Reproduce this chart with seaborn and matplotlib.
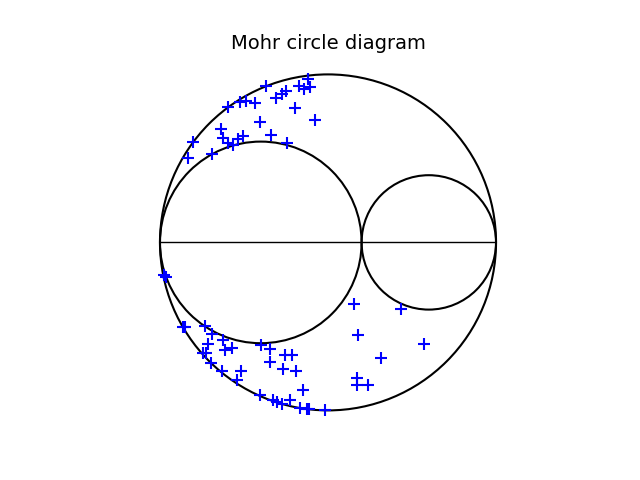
import matplotlib
matplotlib.use("Agg")
import matplotlib.pyplot as plt
from matplotlib.patches import Circle
import seaborn as sns
import pandas as pd

# principal stresses
sigma1 = 60.0
sigma2 = 40.0
sigma3 = 10.0

# sample stress states (normal stress, shear stress)
sigma_n = [31.98, 30.68, 32.32, 31.43, 25.73, 28.75, 27.26, 28.11, 30.04, 33.07,
           21.90, 22.75, 24.14, 20.07, 24.88, 19.08, 26.47, 22.31, 21.56, 19.33,
           20.16, 20.91, 28.94, 14.96, 17.69, 14.21,
           10.60, 10.89, 13.45, 13.70, 16.70, 17.69, 19.33, 17.19, 20.67, 19.67,
           16.44, 16.85, 24.99, 26.37, 26.37, 28.60, 29.60, 17.52, 19.18, 22.05,
           21.41, 28.26, 30.24, 31.24, 24.88, 26.77, 27.46, 28.11, 29.35, 30.83,
           31.83, 32.17, 34.55,
           38.87, 45.82, 39.51, 49.29, 42.84, 39.36, 39.27, 40.99]
tau = [24.36, 23.26, 23.07, 22.77, 23.26, 22.47, 21.53, 22.13, 19.99, 18.26,
       20.88, 20.98, 20.79, 20.13, 17.90, 16.82, 16.03, 15.77, 15.33, 15.52,
       14.78, 14.43, 14.78, 14.93, 13.20, 12.54,
       -4.81, -5.16, -12.55, -12.65, -12.46, -13.59, -14.58, -15.07, -15.73, -16.07,
       -16.41, -16.52, -15.33, -15.82, -17.81, -16.71, -16.71, -17.90, -19.15, -19.15,
       -20.54, -18.90, -19.15, -22.02, -22.77, -23.51, -23.76, -24.00, -23.51, -24.60,
       -24.75, -24.85, -25.00,
       -9.12, -9.97, -13.74, -15.07, -17.22, -20.19, -21.28, -21.28]

df = pd.DataFrame({"sigma": sigma_n, "tau": tau})

sns.set_style("white")
fig, ax = plt.subplots(figsize=(6.4, 4.8), dpi=100)

pairs = [(sigma3, sigma1), (sigma3, sigma2), (sigma2, sigma1)]
for a, b in pairs:
    c = (a + b) / 2.0
    r = (b - a) / 2.0
    ax.add_patch(Circle((c, 0), r, fill=False, edgecolor="black", linewidth=1.5))

ax.hlines(0, sigma3, sigma1, colors="black", linewidth=1.0)

sns.scatterplot(data=df, x="sigma", y="tau", marker="+", color="blue",
                s=85, linewidth=1.5, ax=ax, legend=False)

center = (sigma1 + sigma3) / 2.0
R = (sigma1 - sigma3) / 2.0
ax.set_xlim(center - 36.9, center + 36.9)
ax.set_ylim(-1.1 * R, 1.1 * R)
ax.axis("off")
ax.set_title("Mohr circle diagram", fontsize=14, color="black")

fig.savefig("out.png", dpi=100)
